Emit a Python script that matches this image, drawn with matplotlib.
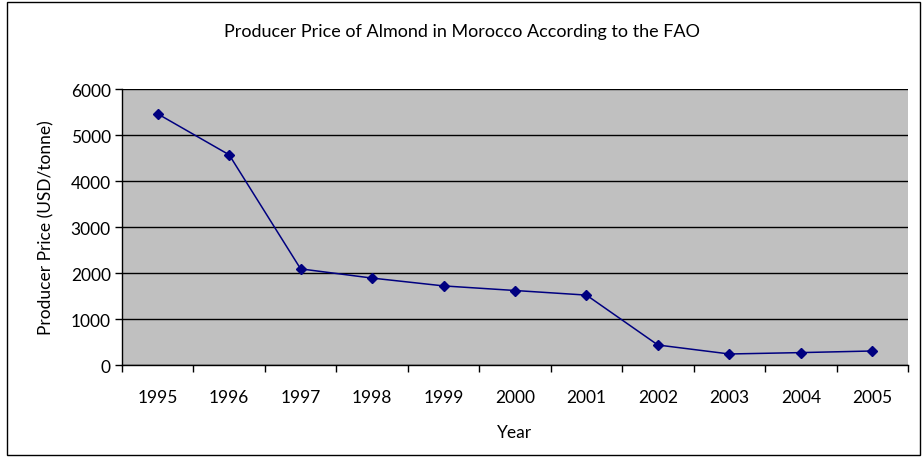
import matplotlib.pyplot as plt
import numpy as np
from matplotlib.patches import Rectangle

# Data
years = ["1995", "1996", "1997", "1998", "1999", "2000",
         "2001", "2002", "2003", "2004", "2005"]
price = [5460, 4570, 2090, 1890, 1720, 1620, 1520, 435, 240, 270, 305]
y_ticks = [0, 1000, 2000, 3000, 4000, 5000, 6000]

plt.rcParams['font.family'] = ['Lato', 'DejaVu Sans']
fs = 12.5

fig = plt.figure(figsize=(9.24, 4.6), dpi=100)
ax = fig.add_axes([0.132, 0.2043, 0.8507, 0.6])

x = np.arange(len(years))
ax.plot(x, price, color="#000080", linewidth=1.1, marker="D", markersize=5.5,
        markerfacecolor="#000080", markeredgecolor="#000080")

ax.set_facecolor("#C0C0C0")
ax.set_xlim(-0.5, len(years) - 0.5)
ax.set_ylim(0, 6000)
ax.set_yticks(y_ticks)
ax.set_yticklabels([str(v) for v in y_ticks], fontsize=fs)
ax.yaxis.grid(True, color="black", linewidth=1)
ax.set_axisbelow(True)

# category ticks between labels, like Excel
ax.set_xticks(np.arange(-0.5, len(years), 1.0))
ax.set_xticklabels([])
ax.set_xticks(x, minor=True)
ax.set_xticklabels(years, minor=True, fontsize=fs)
ax.tick_params(axis="x", which="minor", length=0, pad=17)
ax.tick_params(axis="x", which="major", length=5, width=1, direction="out")
ax.tick_params(axis="y", length=5, width=1, direction="out", pad=3)

for side in ["top", "right"]:
    ax.spines[side].set_visible(False)
for side in ["left", "bottom"]:
    ax.spines[side].set_color("black")
    ax.spines[side].set_linewidth(1)

ax.set_xlabel("Year", fontsize=fs, labelpad=14)
ax.set_ylabel("Producer Price (USD/tonne)", fontsize=fs, labelpad=12)
fig.text(0.5, 0.93, "Producer Price of Almond in Morocco According to the FAO",
         ha="center", va="center", fontsize=13)

# outer chart border
fig.patches.append(Rectangle((0.008, 0.008), 0.988, 0.986, transform=fig.transFigure,
                             fill=False, edgecolor="black", linewidth=1))

fig.savefig("out.png", dpi=100)
